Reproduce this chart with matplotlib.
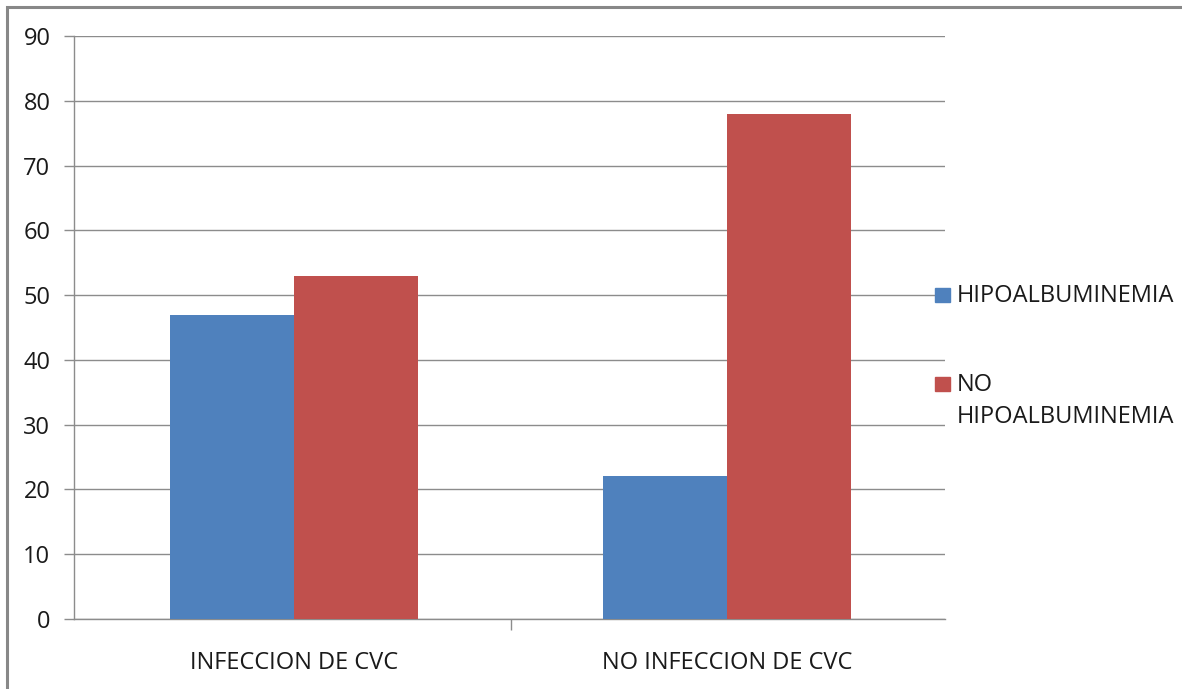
import matplotlib
matplotlib.use("Agg")
import matplotlib.pyplot as plt
from matplotlib.patches import Rectangle
import numpy as np

categories = ["INFECCION DE CVC", "NO INFECCION DE CVC"]
series_names = ["HIPOALBUMINEMIA", "NO\nHIPOALBUMINEMIA"]
hipoalbuminemia = [47, 22]
no_hipoalbuminemia = [53, 78]
y_ticks = [0, 10, 20, 30, 40, 50, 60, 70, 80, 90]

BLUE = "#4F81BD"
RED = "#C0504D"
GRID = "#8C8C8C"
TEXT = "#1a1a1a"
FONT = "Open Sans"
FS = 17

W, H = 1182, 689
fig = plt.figure(figsize=(W / 100, H / 100), dpi=100)

# outer chart frame
fig.patches.append(Rectangle((7 / W, -0.05), 1.2, (H - 7) / H + 0.05,
                             transform=fig.transFigure, fill=False,
                             edgecolor="#888888", linewidth=2.2))

left, right, top, bottom = 74, 945, 36, 619
ax = fig.add_axes([left / W, 1 - bottom / H, (right - left) / W, (bottom - top) / H])

x = np.arange(len(categories))
bw = 1 / 3.5
ax.bar(x - bw / 2, hipoalbuminemia, width=bw, color=BLUE, zorder=3)
ax.bar(x + bw / 2, no_hipoalbuminemia, width=bw, color=RED, zorder=3)

ax.set_xlim(-0.508, len(categories) - 0.497)
ax.set_ylim(0, 90)
ax.set_yticks(y_ticks)
ax.set_yticklabels([str(v) for v in y_ticks], fontsize=FS, fontfamily=FONT, color=TEXT)
ax.yaxis.grid(True, color=GRID, linewidth=1.0, zorder=0)

ax.set_xticks([0.5])
ax.set_xticklabels([""])
ax.tick_params(axis="x", length=8, width=1.0, color=GRID)
ax.tick_params(axis="y", length=7, width=1.0, color=GRID, pad=10)
for i, c in enumerate(categories):
    ax.text(i, (bottom - 669) / (bottom - top), c, ha="center", va="baseline",
            fontsize=FS, fontfamily=FONT, color=TEXT,
            transform=ax.get_xaxis_transform())

for s in ["top", "right"]:
    ax.spines[s].set_visible(False)
for s in ["left", "bottom"]:
    ax.spines[s].set_color(GRID)
    ax.spines[s].set_linewidth(1.0)

# legend: colour swatches with labels, one text line each
swatch_tops = [288, 377]
line_baselines = [[302], [391, 423]]
for color, name, sw_top, bases in zip([BLUE, RED], series_names, swatch_tops, line_baselines):
    fig.patches.append(Rectangle((935 / W, 1 - (sw_top + 14) / H), 15 / W, 14 / H,
                                 transform=fig.transFigure, color=color, zorder=5))
    for line, base in zip(name.split("\n"), bases):
        fig.text(957 / W, 1 - base / H, line, ha="left", va="baseline",
                 fontsize=FS, fontfamily=FONT, color=TEXT)

fig.savefig("out.png", dpi=100)
